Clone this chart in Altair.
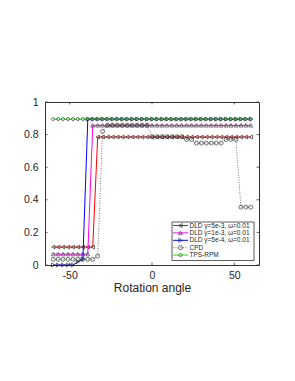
import altair as alt
import pandas as pd

angles = [-60, -57, -54, -51, -48, -45, -42, -39, -36, -33, -30, -27, -24, -21,
          -18, -15, -12, -9, -6, -3, 0, 3, 6, 9, 12, 15, 18, 21, 24, 27, 30, 33,
          36, 39, 42, 45, 48, 51, 54, 57, 60]

dld_5e3 = [0.11, 0.11, 0.11, 0.11, 0.11, 0.11, 0.11, 0.11, 0.11,
           0.785, 0.785, 0.785, 0.785, 0.785, 0.785, 0.785, 0.785, 0.785, 0.785,
           0.785, 0.785, 0.785, 0.785, 0.785, 0.785, 0.785, 0.785, 0.785, 0.785,
           0.785, 0.785, 0.785, 0.785, 0.785, 0.785, 0.785, 0.785, 0.785, 0.785,
           0.785, 0.785]
dld_1e3 = [0.067, 0.067, 0.067, 0.067, 0.067, 0.067, 0.067, 0.067,
           0.857, 0.857, 0.857, 0.857, 0.857, 0.857, 0.857, 0.857, 0.857, 0.857,
           0.857, 0.857, 0.857, 0.857, 0.857, 0.857, 0.857, 0.857, 0.857, 0.857,
           0.857, 0.857, 0.857, 0.857, 0.857, 0.857, 0.857, 0.857, 0.857, 0.857,
           0.857, 0.857, 0.857]
dld_5e4 = [0.0, 0.0, 0.0, 0.0, 0.0, 0.02, 0.035,
           0.895, 0.895, 0.895, 0.895, 0.895, 0.895, 0.895, 0.895, 0.895, 0.895,
           0.895, 0.895, 0.895, 0.895, 0.895, 0.895, 0.895, 0.895, 0.895, 0.895,
           0.895, 0.895, 0.895, 0.895, 0.895, 0.895, 0.895, 0.895, 0.895, 0.895,
           0.895, 0.895, 0.895, 0.895]
cpd = [0.035, 0.035, 0.035, 0.035, 0.035, 0.035, 0.035, 0.035, 0.035,
       0.055, 0.82,
       0.858, 0.858, 0.858, 0.858, 0.858, 0.858, 0.858, 0.858, 0.858,
       0.787, 0.787, 0.787, 0.787, 0.787, 0.787, 0.787,
       0.77, 0.77,
       0.748, 0.748, 0.748, 0.748, 0.748, 0.748,
       0.77, 0.77, 0.77,
       0.355, 0.355, 0.355]
tps_rpm = [0.895, 0.895, 0.895, 0.895, 0.895, 0.895, 0.895, 0.895, 0.895,
           0.895, 0.895, 0.895, 0.895, 0.895, 0.895, 0.895, 0.895, 0.895, 0.895,
           0.895, 0.895, 0.895, 0.895, 0.895, 0.895, 0.895, 0.895, 0.895, 0.895,
           0.895, 0.895, 0.895, 0.895, 0.895, 0.895, 0.895, 0.895, 0.895, 0.895,
           0.895, 0.895]

series_names = ["DLD \u03b3=5e-3, \u03c9=0.01", "DLD \u03b3=1e-3, \u03c9=0.01",
                "DLD \u03b3=5e-4, \u03c9=0.01", "CPD", "TPS-RPM"]
series_values = [dld_5e3, dld_1e3, dld_5e4, cpd, tps_rpm]
line_colors = ["#ff0000", "#ff00ff", "#0000ff", "#555555", "#00ff00"]
marker_shapes = ["triangle-left", "triangle-up", "triangle-right", "circle", "diamond"]
dashes = [None, None, None, [1, 1.5], None]

x_ticks = [-50, 0, 50]
y_ticks = [0, 0.2, 0.4, 0.6, 0.8, 1]

rows = []
for name, vals in zip(series_names, series_values):
    for a, v in zip(angles, vals):
        rows.append({"series": name, "angle": a, "value": v})
df = pd.DataFrame(rows)

FONT = "Liberation Sans"
W, H = 214, 163
xs = alt.Scale(domain=[-65, 65], nice=False, zero=False)
ys = alt.Scale(domain=[0, 1], nice=False, zero=False)

x_axis = alt.Axis(values=x_ticks, labelExpr="'' + datum.value",
                  labelPadding=5, title="Rotation angle", titleFontSize=12,
                  titleY=26, titleBaseline="alphabetic")
y_axis = alt.Axis(values=y_ticks,
                  labelExpr="datum.value == 0 ? '0' : datum.value == 1 ? '1' : format(datum.value, '.1f')",
                  labelPadding=7, title=None)
X = alt.X("angle:Q", scale=xs, axis=x_axis)
Y = alt.Y("value:Q", scale=ys, axis=y_axis)

layers = []
for name, col, shp, dash in zip(series_names, line_colors, marker_shapes, dashes):
    base = alt.Chart(df).transform_filter(alt.datum.series == name)
    lkw = dict(color=col, strokeWidth=1 if dash is None else 0.8)
    if dash is not None:
        lkw["strokeDash"] = dash
    layers.append(base.mark_line(**lkw).encode(x=X, y=Y))
    layers.append(base.mark_point(shape=shp, filled=False, size=16, color="#222222",
                                  strokeWidth=0.9).encode(x=X, y=Y))

# inner tick marks (MATLAB style)
trows = []
for t in x_ticks:
    trows.append({"angle": t, "angle2": t, "value": 0, "value2": 0.015})
    trows.append({"angle": t, "angle2": t, "value": 1, "value2": 0.985})
for v in y_ticks:
    trows.append({"angle": -65, "angle2": -63.5, "value": v, "value2": v})
    trows.append({"angle": 65, "angle2": 63.5, "value": v, "value2": v})
tdf = pd.DataFrame(trows)
layers.append(alt.Chart(tdf).mark_rule(color="#333333", strokeWidth=0.8).encode(
    x=X, x2="angle2:Q", y=Y, y2="value2:Q"))

# legend box
one = pd.DataFrame({"k": [0]})
layers.append(alt.Chart(one).mark_rect(fill="white", stroke="#333333", strokeWidth=0.8).encode(
    x=alt.value(127), x2=alt.value(209), y=alt.value(120), y2=alt.value(158.5)))
for i, (name, col, shp, dash) in enumerate(zip(series_names, line_colors, marker_shapes, dashes)):
    yy = 123.5 + i * 7.4
    ldf = pd.DataFrame({"label": [name]})
    rkw = dict(color=col, strokeWidth=1 if dash is None else 0.8)
    if dash is not None:
        rkw["strokeDash"] = dash
    layers.append(alt.Chart(ldf).mark_rule(**rkw).encode(
        x=alt.value(128), x2=alt.value(143), y=alt.value(yy)))
    layers.append(alt.Chart(ldf).mark_point(shape=shp, filled=False, size=16, color="#222222",
                                            strokeWidth=0.9).encode(
        x=alt.value(135.5), y=alt.value(yy)))
    layers.append(alt.Chart(ldf).mark_text(align="left", baseline="middle", font=FONT,
                                           fontSize=6.5, color="#262626").encode(
        x=alt.value(144.5), y=alt.value(yy), text="label:N"))

chart = alt.layer(*layers).properties(
    width=W, height=H,
    padding={"left": 37, "top": 94, "right": 28, "bottom": 100},
    autosize=alt.AutoSizeParams(type="none"),
).configure_view(
    stroke="#333333", strokeWidth=1
).configure_axis(
    grid=False, ticks=False, tickSize=0, domain=False,
    labelFont=FONT, labelFontSize=10.5, labelColor="#262626",
    titleFont=FONT, titleFontWeight="normal", titleColor="#262626"
)

chart.save("out.html", embed_options={"renderer": "svg", "actions": False})
